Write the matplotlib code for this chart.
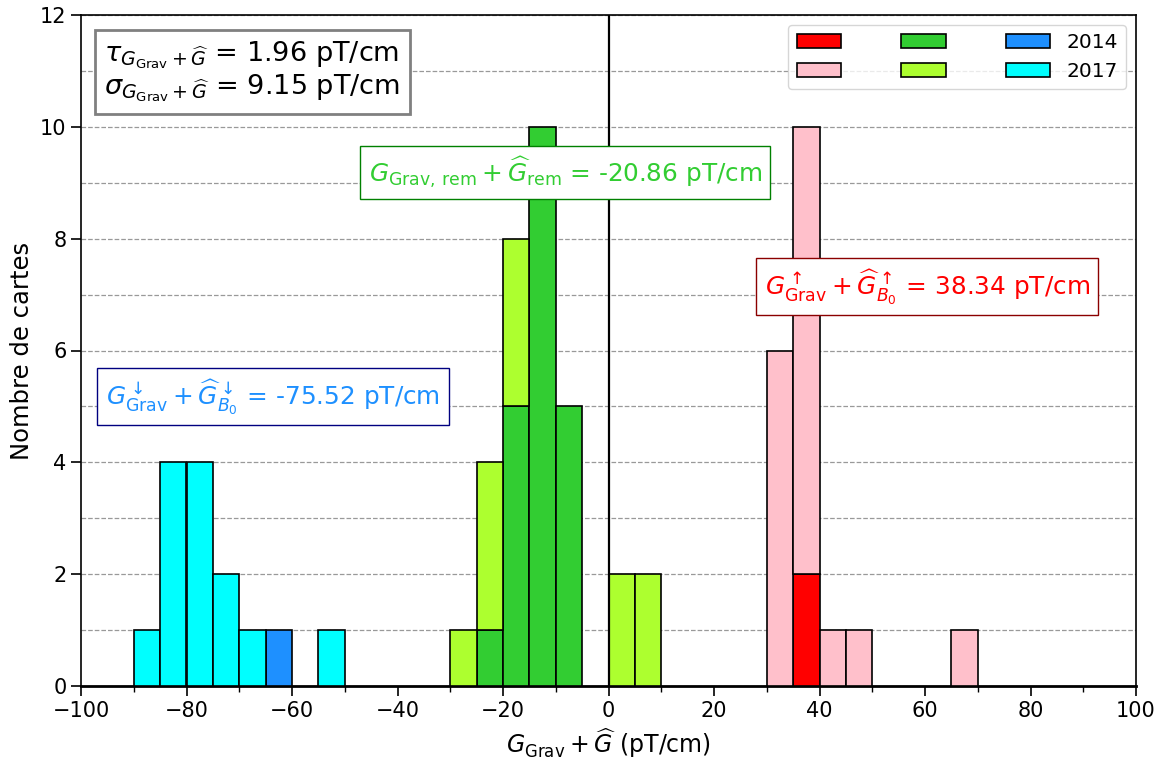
import numpy as np
import matplotlib
matplotlib.use("Agg")
import matplotlib.pyplot as plt
from matplotlib.ticker import MultipleLocator

# bin edges (width 5, -100..100)
bin_left = [-90, -85, -80, -75, -70, -65, -55,
            -30, -25, -20, -15, -10, 0, 5,
            30, 35, 40, 45, 65]

# counts per bin: B0 down (blue 2014 / cyan 2017)
down_2014 = [0, 0, 0, 0, 0, 1, 0,  0, 0, 0, 0, 0, 0, 0,  0, 0, 0, 0, 0]
down_2017 = [1, 4, 4, 2, 1, 0, 1,  0, 0, 0, 0, 0, 0, 0,  0, 0, 0, 0, 0]
# remanent (green 2014 / lime 2017)
rem_2014 = [0, 0, 0, 0, 0, 0, 0,  0, 1, 5, 10, 5, 0, 0,  0, 0, 0, 0, 0]
rem_2017 = [0, 0, 0, 0, 0, 0, 0,  1, 3, 3, 0, 0, 2, 2,  0, 0, 0, 0, 0]
# B0 up (red 2014 / pink 2017)
up_2014 = [0, 0, 0, 0, 0, 0, 0,  0, 0, 0, 0, 0, 0, 0,  0, 2, 0, 0, 0]
up_2017 = [0, 0, 0, 0, 0, 0, 0,  0, 0, 0, 0, 0, 0, 0,  6, 8, 1, 1, 1]

bin_width = 5
legend_labels = ["", "", "", "", "2014", "2017"]

tau_val = 1.96
sigma_val = 9.15
mean_rem = -20.86
mean_up = 38.34
mean_down = -75.52

plt.rcParams['font.family'] = ['DejaVu Sans']
plt.rcParams['mathtext.fontset'] = 'dejavusans'

fig = plt.figure(figsize=(11.66, 7.60), dpi=100)
ax = fig.add_axes([81/1166, 1 - 686/760, (1136-81)/1166, (686-15)/760])

x = np.array(bin_left, dtype=float)
groups = [
    (up_2014, up_2017, "red", "pink"),
    (rem_2014, rem_2017, "limegreen", "greenyellow"),
    (down_2014, down_2017, "dodgerblue", "cyan"),
]
handles = []
for c14, c17, col14, col17 in groups:
    c14 = np.array(c14, dtype=float)
    c17 = np.array(c17, dtype=float)
    m14 = c14 > 0
    m17 = c17 > 0
    b1 = ax.bar(x[m14], c14[m14], width=bin_width, align='edge', color=col14,
                edgecolor='black', linewidth=1.2, zorder=3)
    b2 = ax.bar(x[m17], c17[m17], width=bin_width, align='edge', bottom=c14[m17],
                color=col17, edgecolor='black', linewidth=1.2, zorder=3)
    handles.append(b1)
    handles.append(b2)

ax.axvline(0, color='black', linewidth=1.6, zorder=4)

ax.set_xlim(-100, 100)
ax.set_ylim(0, 12)
ax.xaxis.set_major_locator(MultipleLocator(20))
ax.xaxis.set_minor_locator(MultipleLocator(10))
ax.yaxis.set_major_locator(MultipleLocator(2))
ax.yaxis.set_minor_locator(MultipleLocator(1))
ax.grid(True, which='both', axis='y', linestyle='--', color='gray', alpha=0.8, linewidth=0.9, zorder=0)
ax.set_axisbelow(True)
ax.tick_params(axis='both', which='major', labelsize=15, length=7, width=1.2)
ax.tick_params(axis='both', which='minor', length=4, width=1.0)
ax.tick_params(axis='y', which='minor', length=0)
for s in ax.spines.values():
    s.set_linewidth(1.2)
ax.spines['bottom'].set_linewidth(2)

ax.set_xlabel(r"$G_{\rm Grav} + \widehat{G}$ (pT/cm)", fontsize=17)
ax.set_ylabel("Nombre de cartes", fontsize=17.5)

leg = ax.legend([handles[0], handles[1], handles[2], handles[3], handles[4], handles[5]],
                legend_labels, ncol=3, loc='upper right', fontsize=14.5,
                handlelength=2.2, columnspacing=2.2)

ax.text(0.022, 0.963,
        r"$\tau_{G_{\rm Grav} + \widehat{G}}$ = %.2f pT/cm" % tau_val + "\n" +
        r"$\sigma_{G_{\rm Grav} + \widehat{G}}$ = %.2f pT/cm" % sigma_val,
        transform=ax.transAxes, ha='left', va='top', fontsize=19.5, linespacing=1.05,
        bbox=dict(boxstyle='square,pad=0.35', facecolor='white', edgecolor='gray', linewidth=2),
        zorder=6)

ax.text(-8.2, 9.19, r"$G_{\rm Grav,\, rem} + \widehat{G}_{\rm rem}$ = %.2f pT/cm" % mean_rem,
        ha='center', va='center', fontsize=17.8, color='limegreen',
        bbox=dict(boxstyle='square,pad=0.35', facecolor='white', edgecolor='green', linewidth=1),
        zorder=6)

ax.text(60.4, 7.14, r"$G^{\uparrow}_{\rm Grav} + \widehat{G}^{\uparrow}_{B_0}$ = %.2f pT/cm" % mean_up,
        ha='center', va='center', fontsize=17.8, color='red',
        bbox=dict(boxstyle='square,pad=0.35', facecolor='white', edgecolor='darkred', linewidth=1),
        zorder=6)

ax.text(-63.6, 5.17, r"$G^{\downarrow}_{\rm Grav} + \widehat{G}^{\downarrow}_{B_0}$ = %.2f pT/cm" % mean_down,
        ha='center', va='center', fontsize=17.8, color='dodgerblue',
        bbox=dict(boxstyle='square,pad=0.35', facecolor='white', edgecolor='navy', linewidth=1),
        zorder=6)

fig.savefig("out.png", dpi=100)
